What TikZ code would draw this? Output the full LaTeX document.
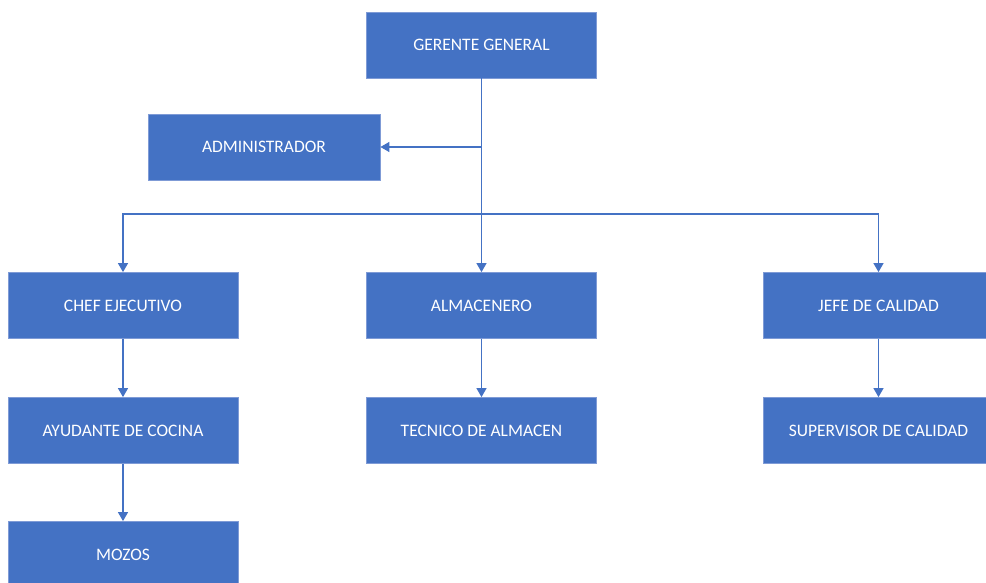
\documentclass[tikz,border=0pt]{standalone}
\usepackage{fontspec}
\setmainfont{Carlito}
\usetikzlibrary{arrows.meta}
\definecolor{boxblue}{HTML}{4472C4}
\definecolor{edgeblue}{HTML}{7F9BD6}
\tikzset{
  puesto/.style={draw=edgeblue, line width=0.8pt, fill=boxblue, text=white,
    minimum width=230pt, minimum height=66pt, inner sep=0pt,
    font=\fontsize{17.5}{20}\selectfont},
  enlace/.style={draw=boxblue, line width=1.3pt, -{Triangle[width=10pt,length=9pt]}}
}
\begin{document}
\begin{tikzpicture}[x=1pt,y=-1pt]
      \useasboundingbox (0,0) rectangle (986,583);
      \draw
        (481.5,45) node[puesto] (gerente){GERENTE GENERAL}
        (264,147) node[puesto, minimum width=232pt] (admin){ADMINISTRADOR}
        (123,305.5) node[puesto] (chef){CHEF EJECUTIVO}
        (481.5,305.5) node[puesto] (almacenero){ALMACENERO}
        (878.5,305.5) node[puesto] (jefe){JEFE DE CALIDAD}
        (123,430.5) node[puesto] (ayudante){AYUDANTE DE COCINA}
        (481.5,430.5) node[puesto] (tecnico){TECNICO DE ALMACEN}
        (878.5,430.5) node[puesto] (supervisor){SUPERVISOR DE CALIDAD}
        (123,554.5) node[puesto] (mozos){MOZOS};
      \coordinate (rama) at (481.5,147);
      \coordinate (bus) at (481.5,214);
      \begin{scope}[enlace]
        \draw[-] (gerente) to (bus);
        \draw (rama) to (admin.east);
        \draw (bus) to (almacenero);
        \draw (bus) -| (chef);
        \draw (bus) -| (jefe);
        \draw (chef) to (ayudante);
        \draw (ayudante) to (mozos);
        \draw (almacenero) to (tecnico);
        \draw (jefe) to (supervisor);
      \end{scope}
    \end{tikzpicture}
\end{document}
